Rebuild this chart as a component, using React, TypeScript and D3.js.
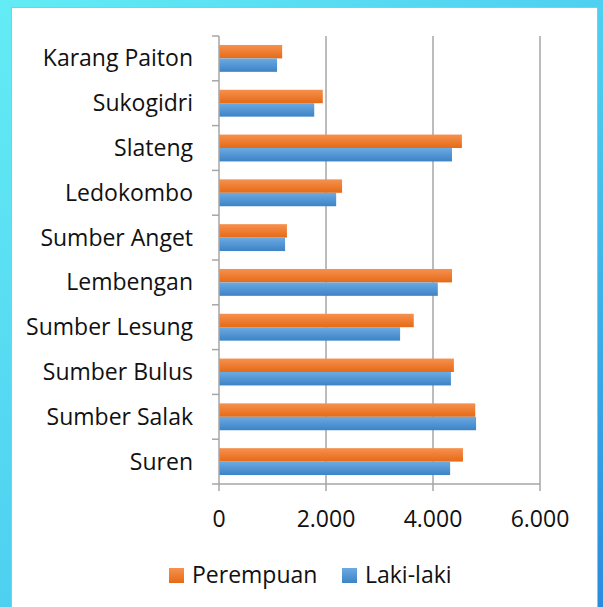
import React, { useEffect, useRef } from 'react';
import * as d3 from 'd3';

// data order as in the sheet (bottom to top on the chart)
const categories = ['Suren', 'Sumber Salak', 'Sumber Bulus', 'Sumber Lesung', 'Lembengan', 'Sumber Anget', 'Ledokombo', 'Slateng', 'Sukogidri', 'Karang Paiton'];
const perempuan = [4560, 4790, 4390, 3640, 4355, 1270, 2300, 4540, 1940, 1180];
const lakiLaki = [4320, 4805, 4335, 3385, 4090, 1235, 2190, 4355, 1780, 1085];
const seriesNames = ['Perempuan', 'Laki-laki'];
const xTicks = [0, 2000, 4000, 6000];

const WIDTH = 603;
const HEIGHT = 607;
const FONT = "'Open Sans', sans-serif";

const App = () => {
    const ref = useRef<SVGSVGElement>(null);

    useEffect(() => {
        const svg = d3.select(ref.current);
        svg.selectAll('*').remove();

        const defs = svg.append('defs');
        const bg = defs.append('linearGradient').attr('id', 'bg')
            .attr('x1', 0).attr('y1', 0).attr('x2', 1).attr('y2', 1);
        bg.append('stop').attr('offset', '0%').attr('stop-color', '#63ecf5');
        bg.append('stop').attr('offset', '55%').attr('stop-color', '#4ccdf0');
        bg.append('stop').attr('offset', '100%').attr('stop-color', '#2a8bdd');

        const makeGrad = (id: string, top: string, bottom: string) => {
            const g = defs.append('linearGradient').attr('id', id)
                .attr('x1', 0).attr('y1', 0).attr('x2', 0).attr('y2', 1);
            g.append('stop').attr('offset', '0%').attr('stop-color', top);
            g.append('stop').attr('offset', '100%').attr('stop-color', bottom);
        };
        makeGrad('gOrange', '#f6914f', '#e56a16');
        makeGrad('gBlue', '#6caae2', '#3c83c6');
        const fills = ['url(#gOrange)', 'url(#gBlue)'];

        // background + white panel
        svg.append('rect').attr('width', WIDTH).attr('height', HEIGHT).attr('fill', 'url(#bg)');
        svg.append('rect')
            .attr('x', 11.5).attr('y', 7.5).attr('width', 586).attr('height', 610)
            .attr('fill', '#ffffff').attr('stroke', '#b8b8b8').attr('stroke-width', 1);

        const left = 219, right = 540, top = 36, bottom = 484;

        const x = d3.scaleLinear().domain([0, 6000]).range([left, right]);
        const y = d3.scaleBand<string>().domain(categories).range([bottom, top])
            .paddingInner(0.4).paddingOuter(0.2);
        const ySub = d3.scaleBand<string>().domain(seriesNames).range([0, y.bandwidth()]);

        // gridlines
        svg.append('g').selectAll('line').data(xTicks.slice(1)).enter().append('line')
            .attr('x1', d => x(d)).attr('x2', d => x(d))
            .attr('y1', top).attr('y2', bottom)
            .attr('stroke', '#a6a6a6').attr('stroke-width', 1.5);

        // bars
        const series = [perempuan, lakiLaki];
        series.forEach((vals, si) => {
            svg.append('g').selectAll('rect').data(categories).enter().append('rect')
                .attr('x', x(0))
                .attr('y', d => (y(d) as number) + (ySub(seriesNames[si]) as number))
                .attr('width', (d, i) => x(vals[i]) - x(0))
                .attr('height', ySub.bandwidth())
                .attr('fill', fills[si]);
        });

        // category axis
        const step = y.step();
        const boundaries = d3.range(categories.length + 1).map(i => top + i * step);
        svg.append('line').attr('x1', left).attr('x2', left).attr('y1', top).attr('y2', bottom)
            .attr('stroke', '#a6a6a6').attr('stroke-width', 1.5);
        svg.append('g').selectAll('line').data(boundaries).enter().append('line')
            .attr('x1', left - 7).attr('x2', left).attr('y1', d => d).attr('y2', d => d)
            .attr('stroke', '#a6a6a6').attr('stroke-width', 1.5);

        svg.append('g').selectAll('text').data(categories).enter().append('text')
            .attr('x', 193)
            .attr('y', d => (y(d) as number) - y.step() * 0.2 + step / 2 + 8)
            .attr('text-anchor', 'end')
            .attr('font-family', FONT).attr('font-size', 23).attr('fill', '#111')
            .text(d => d);

        // value axis
        svg.append('line').attr('x1', left).attr('x2', right).attr('y1', bottom).attr('y2', bottom)
            .attr('stroke', '#a6a6a6').attr('stroke-width', 1.5);
        svg.append('g').selectAll('line').data(xTicks).enter().append('line')
            .attr('x1', d => x(d)).attr('x2', d => x(d)).attr('y1', bottom).attr('y2', bottom + 7)
            .attr('stroke', '#a6a6a6').attr('stroke-width', 1.5);
        const fmt = (d: number) => d3.format(',')(d).replace(/,/g, '.');
        svg.append('g').selectAll('text').data(xTicks).enter().append('text')
            .attr('x', d => x(d)).attr('y', 527)
            .attr('text-anchor', 'middle')
            .attr('font-family', FONT).attr('font-size', 23).attr('fill', '#111')
            .text(d => fmt(d));

        // legend
        const legendX = [169, 342];
        seriesNames.forEach((name, i) => {
            svg.append('rect').attr('x', legendX[i]).attr('y', 568).attr('width', 15).attr('height', 15)
                .attr('fill', fills[i]);
            svg.append('text').attr('x', legendX[i] + 23).attr('y', 583)
                .attr('font-family', FONT).attr('font-size', 23).attr('fill', '#111')
                .text(name);
        });
    }, []);

    return (
        <div style={{ position: 'fixed', left: 0, top: 0 }}>
            <svg ref={ref} width={WIDTH} height={HEIGHT} style={{ display: 'block' }}></svg>
        </div>
    );
};

export default App;
